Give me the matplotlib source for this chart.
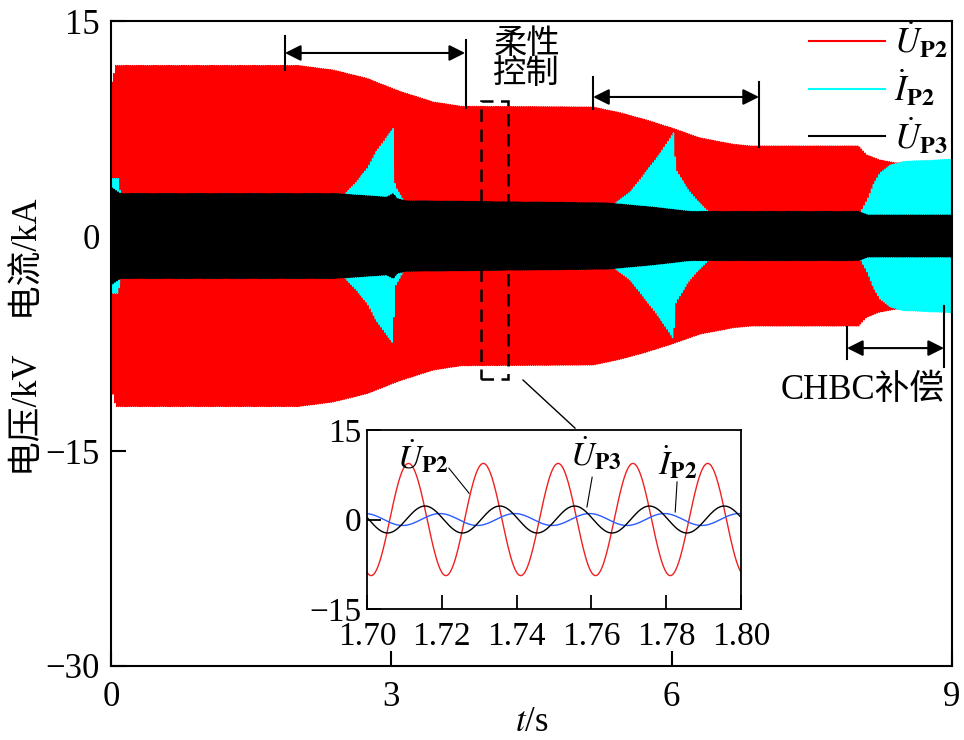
import numpy as np
import matplotlib
matplotlib.use('Agg')
import matplotlib.pyplot as plt
from matplotlib.patches import Rectangle

plt.rcParams['font.family'] = ['Liberation Serif', 'Noto Sans CJK SC']
plt.rcParams['mathtext.fontset'] = 'stix'

# envelope key points (symmetric about 0)
t_up2 = [0.0, 0.05, 2.0, 2.38, 2.74, 3.09, 3.45, 3.75, 5.16, 5.45, 5.73, 6.02, 6.30, 6.66, 6.85, 8.0, 8.09, 8.23, 8.40, 9.0]
a_up2 = [10.4, 11.9, 11.9, 11.58, 11.0, 10.1, 9.35, 9.05, 9.0, 8.6, 8.1, 7.5, 6.85, 6.4, 6.28, 6.28, 5.65, 5.3, 5.1, 5.1]

t_ip2 = [0.0, 0.08, 0.15, 2.40, 2.50, 2.63, 2.74, 2.84, 2.95, 3.02, 3.04, 3.12, 3.30,
         5.30, 5.40, 5.56, 5.74, 5.88, 6.02, 6.05, 6.17, 6.27, 6.38, 6.50,
         7.95, 8.02, 8.09, 8.16, 8.23, 8.34, 8.48, 9.0]
a_ip2 = [4.0, 4.0, 1.0, 1.0, 2.9, 3.8, 4.7, 5.9, 6.9, 7.5, 3.5, 2.6, 1.0,
         1.0, 2.3, 3.1, 4.6, 5.8, 7.2, 4.6, 3.3, 2.5, 1.8, 1.0,
         1.0, 1.6, 2.5, 3.6, 4.4, 4.95, 5.2, 5.35]

t_up3 = [0.0, 0.1, 2.4, 2.95, 3.02, 3.06, 3.15, 5.3, 5.8, 6.2, 8.0, 8.1, 9.0]
a_up3 = [3.4, 2.95, 2.95, 2.7, 2.95, 2.6, 2.45, 2.3, 2.0, 1.7, 1.7, 1.45, 1.45]

f_grid = 50.0
fs = 5000.0

# zoomed window 1.70-1.80 s: amplitude and time of first crest
inset_amp = [9.4, 1.0, 2.26]        # U_P2, I_P2, U_P3
inset_peak = [1.7111, 1.7195, 1.7155]

labels = [r'$\dot{U}_{\mathbf{P2}}$', r'$\dot{I}_{\mathbf{P2}}$', r'$\dot{U}_{\mathbf{P3}}$']

t = np.arange(0, 9.0 + 1 / fs, 1 / fs)
u_p2 = np.interp(t, t_up2, a_up2) * np.cos(2 * np.pi * f_grid * (t - inset_peak[0]))
i_p2 = np.interp(t, t_ip2, a_ip2) * np.cos(2 * np.pi * f_grid * (t - inset_peak[1]))
u_p3 = np.interp(t, t_up3, a_up3) * np.cos(2 * np.pi * f_grid * (t - inset_peak[2]))

fig = plt.figure(figsize=(9.64, 7.4), dpi=100)
ax = fig.add_axes([0.1151, 0.1, 0.8724, 0.8716])

ax.plot(t, u_p2, color='#ff0000', lw=1.0, label=labels[0])
ax.plot(t, i_p2, color='#00ffff', lw=1.0, label=labels[1])
ax.plot(t, u_p3, color='#000000', lw=1.2, label=labels[2])

ax.set_xlim(0, 9)
ax.set_ylim(-30, 15)
ax.set_xticks([0, 3, 6, 9])
ax.set_yticks([-30, -15, 0, 15])
ax.set_yticklabels(['\u221230', '\u221215', '0', '15'])
ax.tick_params(direction='in', length=11, width=1.5, labelsize=25, pad=8)
ax.tick_params(axis='x', pad=11)
for s in ax.spines.values():
    s.set_linewidth(1.5)

ax.set_xlabel(r'$t$/s', fontsize=25)
ax.xaxis.set_label_coords(0.5, -0.062)
ax.set_ylabel('电压/kV    电流/kA', fontsize=25)
ax.yaxis.set_label_coords(-0.078, 0.51)

leg = ax.legend(loc='upper right', bbox_to_anchor=(0.995, 1.0), frameon=False,
                fontsize=25, handlelength=2.2, handletextpad=0.25, labelspacing=0.22,
                borderpad=0, borderaxespad=0)
for line in leg.get_lines():
    line.set_linewidth(1.5)

# dimension arrows
def dim_arrow(x0, x1, y):
    ax.annotate('', xy=(x1, y), xytext=(x0, y),
                arrowprops=dict(arrowstyle='<|-|>', color='k', lw=1.5,
                                mutation_scale=24, shrinkA=0, shrinkB=0))

dim_arrow(1.862, 3.79, 12.77)
ax.plot([1.862, 1.862], [13.95, 11.58], color='k', lw=1.5)
ax.plot([3.80, 3.80], [13.67, 8.93], color='k', lw=1.5)

dim_arrow(5.16, 6.935, 9.7)
ax.plot([5.16, 5.16], [11.09, 8.86], color='k', lw=1.5)
ax.plot([6.935, 6.935], [10.74, 6.21], color='k', lw=1.5)

dim_arrow(7.877, 8.915, -7.82)
ax.plot([7.877, 7.877], [-6.35, -8.59], color='k', lw=1.5)
ax.plot([8.915, 8.915], [-4.89, -9.15], color='k', lw=1.5)

ax.text(4.45, 12.3, '柔性\n控制', fontsize=24, ha='center', va='center', linespacing=1.0)
ax.text(8.05, -10.75, 'CHBC补偿', fontsize=25, ha='center', va='center')

ax.add_patch(Rectangle((3.96, -9.98), 0.29, 19.4, fill=False, ls=(0, (5, 3)), lw=1.8, ec='k', zorder=5))
ax.plot([4.41, 4.966], [-10.05, -13.4], color='k', lw=1.0, clip_on=False, zorder=5)

# inset
axins = fig.add_axes([0.3807, 0.177, 0.388, 0.2419])
ti = np.arange(1.70, 1.8001, 0.0002)
inset_colors = ['#f02020', '#2a5cff', '#000000']
for amp, tp, c in zip(inset_amp, inset_peak, inset_colors):
    axins.plot(ti, amp * np.cos(2 * np.pi * f_grid * (ti - tp)), color=c, lw=1.0)
axins.set_xlim(1.70, 1.80)
axins.set_ylim(-15, 15)
axins.set_xticks([1.70, 1.72, 1.74, 1.76, 1.78, 1.80])
axins.set_xticklabels(['1.70', '1.72', '1.74', '1.76', '1.78', '1.80'])
axins.set_yticks([-15, 0, 15])
axins.set_yticklabels(['\u221215', '0', '15'])
axins.tick_params(direction='in', length=10, width=1.3, labelsize=24, pad=4)
axins.tick_params(axis='x', pad=9)
for s in axins.spines.values():
    s.set_linewidth(1.3)

axins.text(1.7150, 10.6, labels[0], fontsize=24, ha='center', va='center')
axins.plot([1.7219, 1.7273], [8.6, 4.4], color='k', lw=0.8)
axins.text(1.7612, 11.1, labels[2], fontsize=24, ha='center', va='center')
axins.plot([1.7602, 1.7588], [7.1, 2.1], color='k', lw=0.8)
axins.text(1.7830, 9.6, labels[1], fontsize=24, ha='center', va='center')
axins.plot([1.7829, 1.7824], [6.3, 1.26], color='k', lw=0.8)

fig.savefig('out.png', dpi=100)
